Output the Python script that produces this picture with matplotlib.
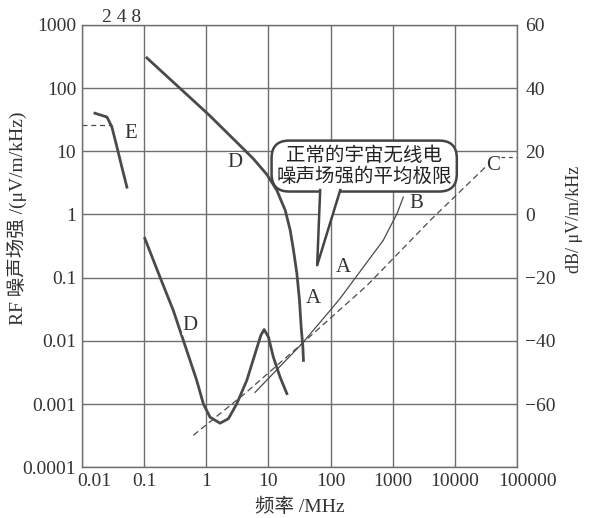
import numpy as np
import matplotlib
matplotlib.use("Agg")
import matplotlib.pyplot as plt
from matplotlib.transforms import ScaledTranslation

plt.rcParams['font.family'] = ['Liberation Serif', 'Noto Sans CJK SC', 'DejaVu Sans']

# axis ticks
x_ticks = [0.01, 0.1, 1, 10, 100, 1000, 10000, 100000]
x_labels = ['0.01', '0.1', '1', '10', '100', '1000', '10000', '100000']
y_ticks = [0.0001, 0.001, 0.01, 0.1, 1, 10, 100, 1000]
y_labels = ['0.0001', '0.001', '0.01', '0.1', '1', '10', '100', '1000']
db_ticks = [-60, -40, -20, 0, 20, 40, 60]
db_labels = ['\u221260', '\u221240', '\u221220', '0', '20', '40', '60']

# curve E (thick)
e_f = [0.0162, 0.0253, 0.0304, 0.0366, 0.044, 0.053]
e_v = [40, 34.8, 24.2, 11.7, 5.6, 2.7]
e_dash_f = [0.01, 0.0304]
e_dash_v = [26, 26]

# curve D, upper branch (thick)
d1_f = [0.111, 1.11, 3.5, 5.73, 9.42, 13.6, 18.6, 22.4, 25.3, 28.7, 31.6, 33.6, 35.8, 36.6]
d1_v = [300, 37.5, 12.3, 7.6, 4.3, 2.43, 1.17, 0.564, 0.272, 0.116, 0.0438, 0.0166, 0.008, 0.0049]

# curve D, lower branch (thick)
d2_f = [0.103, 0.18, 0.295, 0.485, 0.703, 0.898, 1.151, 1.667, 2.27, 3.1, 4.49,
        6.11, 7.55, 8.53, 10.0, 12.0, 15.4, 19.8]
d2_v = [0.417, 0.1026, 0.0304, 0.00706, 0.00237, 0.00101, 0.00062, 0.000498, 0.000585,
        0.00101, 0.00237, 0.00627, 0.0122, 0.0151, 0.0115, 0.00553, 0.00267, 0.00146]

# curve A-B (thin solid)
a_f = [6.1, 34.9, 98.6, 143, 335, 703, 1180, 1475]
a_v = [0.00153, 0.0091, 0.0304, 0.0472, 0.146, 0.39, 1.05, 1.88]

# curve C (dashed)
c_f = [0.62, 4.2, 34.9, 388, 4020, 33300]
c_v = [0.00032, 0.00147, 0.0091, 0.0758, 0.81, 6.04]
c_tail_f = [55000, 100000]
c_tail_v = [8, 8]

# curve labels
lab_txt = ['E', 'D', 'D', 'A', 'A', 'B', 'C']
lab_f = [0.0615, 2.91, 0.55, 160, 52.5, 2390, 41500]
lab_v = [19.4, 6.7, 0.0176, 0.146, 0.047, 1.51, 6.0]

ink = '#4a4a4a'
grid_c = '#6e6e6e'

fig = plt.figure(figsize=(5.89, 5.18), dpi=100)
ax = fig.add_axes([0.139, 0.098, 0.739, 0.854])
ax.set_xscale('log')
ax.set_yscale('log')
ax.set_xlim(0.01, 100000)
ax.set_ylim(0.0001, 1000)
ax.set_xticks(x_ticks)
ax.set_xticklabels(x_labels)
ax.set_yticks(y_ticks)
ax.set_yticklabels(y_labels)
ax.minorticks_off()
ax.tick_params(length=0, labelsize=14, colors='#333333', pad=4)
ax.grid(True, color=grid_c, lw=1.0)
for s in ax.spines.values():
    s.set_color(grid_c)
    s.set_linewidth(1.0)

# nudge the end labels like in the print
xl = ax.get_xticklabels()
xl[0].set_transform(xl[0].get_transform() + ScaledTranslation(0.12, 0, fig.dpi_scale_trans))
xl[-1].set_transform(xl[-1].get_transform() + ScaledTranslation(0.1, 0, fig.dpi_scale_trans))

ax2 = ax.twinx()
ax2.set_ylim(-80, 60)
ax2.set_yticks(db_ticks)
ax2.set_yticklabels(db_labels)
ax2.tick_params(length=0, labelsize=14, colors='#333333', pad=6)
for s in ax2.spines.values():
    s.set_visible(False)

ax.plot(e_f, e_v, color=ink, lw=2.0)
ax.plot(e_dash_f, e_dash_v, color=ink, lw=0.9, ls=(0, (4, 3)))
ax.plot(d1_f, d1_v, color=ink, lw=2.0)
ax.plot(d2_f, d2_v, color=ink, lw=2.0)
ax.plot(a_f, a_v, color=ink, lw=0.9)
ax.plot(c_f, c_v, color=ink, lw=0.9, ls=(0, (5, 3)))
ax.plot(c_tail_f, c_tail_v, color=ink, lw=0.9, ls=(0, (3, 3)))

for t, f, v in zip(lab_txt, lab_f, lab_v):
    ax.text(f, v, t, fontsize=15, color='#333333', ha='center', va='center',
            bbox=dict(fc='white', ec='none', pad=0.5))

# callout
ax.text(347, 5.83, '正常的宇宙无线电\n噪声场强的平均极限', fontsize=14, color='#222222',
        ha='center', va='center', linespacing=0.95, zorder=5,
        family=['Noto Sans CJK SC', 'DejaVu Sans'],
        bbox=dict(boxstyle='round,pad=0.25,rounding_size=0.9', fc='white', ec='#444444', lw=1.8))
ax.fill([68, 60.8, 143], [2.55, 0.157, 2.55], color='white', zorder=6, lw=0)
ax.plot([68, 60.8, 143], [2.43, 0.157, 2.43], color='#444444', lw=1.8, zorder=7)

ax.set_xlabel('频率 /MHz', fontsize=14, color='#333333')
ax.xaxis.set_label_coords(0.5, -0.068)
ax.set_ylabel('RF 噪声场强 /(μV/m/kHz)', fontsize=14, color='#333333')
ax.yaxis.set_label_coords(-0.125, 0.563)
ax2.set_ylabel('dB/ μV/m/kHz', fontsize=13, color='#333333')
ax2.yaxis.set_label_coords(1.112, 0.56)

fig.text(0.207, 0.967, '2 4 8', fontsize=14, color='#333333', ha='center', va='center')

fig.savefig('out.png', dpi=100)
